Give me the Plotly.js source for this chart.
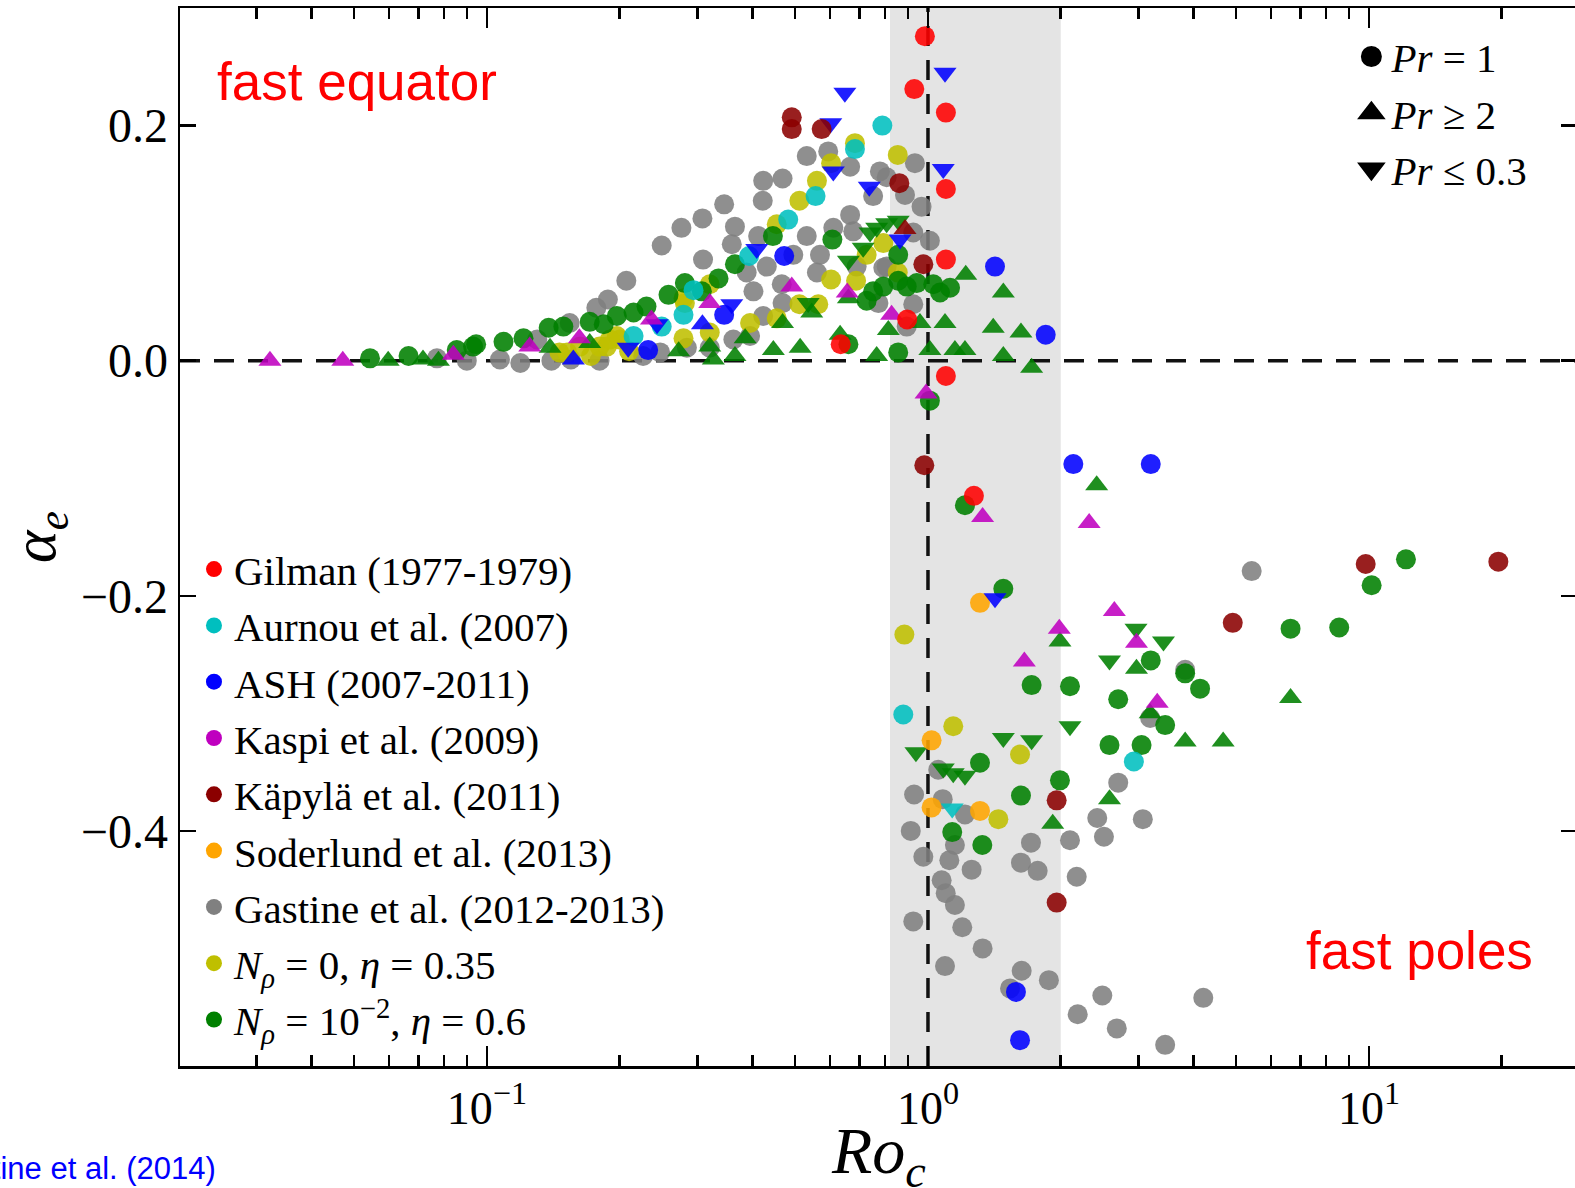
<!DOCTYPE html>
<html><head><meta charset="utf-8">
<script src="https://cdn.plot.ly/plotly-3.0.1.min.js"></script>
<style>html,body{margin:0;padding:0;overflow:hidden;background:#fff}#chart{width:1580px;height:1188px}</style>
</head><body><div id="chart"></div>
<script>
// ---------- data (Ro_c, alpha_e); symbols: o = Pr=1, ^ = Pr>=2, v = Pr<=0.3 ----------
const gilmanX = [0.984, 0.931, 1.098, 1.098, 1.098, 0.897, 0.634, 1.098, 1.271];
const gilmanY = [0.276, 0.231, 0.211, 0.146, 0.086, 0.035, 0.014, -0.013, -0.115];
const gilmanS = ['o','o','o','o','o','o','o','o','o'];

const aurnouX = [0.788, 0.683, 0.556, 0.482, 0.393, 0.294, 0.279, 0.249, 0.215, 0.879, 2.93, 1.135];
const aurnouY = [0.200, 0.180, 0.140, 0.120, 0.089, 0.060, 0.039, 0.029, 0.021, -0.301, -0.341, -0.381];
const aurnouS = ['o','o','o','o','o','o','o','o','o','o','o','v'];

const ashX = [0.648, 0.602, 1.093, 1.083, 0.610, 0.736, 0.864, 0.409, 0.472, 1.419, 1.849, 0.359, 0.345, 0.308, 0.243, 0.209, 0.232, 0.157, 2.136, 3.20, 1.419, 1.583, 1.617];
const ashY = [0.228, 0.202, 0.245, 0.163, 0.161, 0.148, 0.103, 0.095, 0.089, 0.080, 0.022, 0.048, 0.039, 0.031, 0.031, 0.011, 0.009, 0.001, -0.088, -0.088, -0.202, -0.537, -0.578];
const ashS = ['v','v','v','v','v','v','v','v','o','o','o','v','o','^','v','v','o','^','o','o','v','o','o'];

const kaspiX = [0.0322, 0.0471, 0.0839, 0.125, 0.162, 0.236, 0.320, 0.491, 0.656, 0.827, 0.99, 1.33, 2.32, 2.646, 1.985, 2.97, 1.654, 3.31];
const kaspiY = [0.0, 0.0, 0.005, 0.012, 0.019, 0.035, 0.049, 0.063, 0.058, 0.039, -0.028, -0.133, -0.138, -0.213, -0.228, -0.240, -0.256, -0.291];
const kaspiS = ['^','^','^','^','^','^','^','^','^','^','^','^','^','^','^','^','^','^'];

const kapylaX = [0.491, 0.491, 0.574, 0.861, 0.976, 0.887, 0.981, 4.91, 1.958, 1.958, 19.65, 9.83];
const kapylaY = [0.207, 0.197, 0.197, 0.151, 0.082, 0.112, -0.089, -0.223, -0.374, -0.461, -0.171, -0.173];
const kapylaS = ['o','o','o','o','o','^','o','o','o','o','o','o'];

const soderlundX = [1.312, 1.019, 1.019, 1.312];
const soderlundY = [-0.206, -0.323, -0.380, -0.383];
const soderlundS = ['o','o','o','o'];

const gastineX = [0.249, 0.276, 0.308, 0.345, 0.423, 0.468, 0.531, 0.594, 0.666, 0.934, 0.778, 0.806, 0.887, 0.751, 0.967,
  0.422, 0.365, 0.359, 0.412, 0.666, 0.531, 0.610, 0.677, 0.926, 1.01, 0.569, 0.495, 0.431, 0.309, 0.207,
  0.188, 0.388, 0.402, 0.466, 0.560, 0.689, 0.792, 0.772, 0.926, 0.895, 0.468, 0.423, 0.395, 0.362, 0.320,
  0.284, 0.247, 0.226, 0.177, 0.154, 0.13, 0.119, 0.09, 0.077, 0.18, 0.155, 0.806, 0.107, 0.14,
  0.93, 1.055, 1.08, 1.213, 0.914, 1.151, 0.976, 1.118, 1.256, 1.074, 1.097, 1.151, 0.926, 1.196, 1.33,
  1.093, 1.631, 1.88, 1.535, 1.712, 1.625, 1.773, 2.099, 2.174, 2.42, 2.506, 2.70, 3.07, 2.185, 2.485,
  2.68, 3.45, 4.21, 3.19, 5.42, 3.83];
const gastineY = [0.098, 0.113, 0.121, 0.133, 0.153, 0.155, 0.174, 0.178, 0.165, 0.168, 0.161, 0.156, 0.141, 0.140, 0.131,
  0.136, 0.114, 0.099, 0.106, 0.124, 0.106, 0.113, 0.110, 0.109, 0.102, 0.090, 0.090, 0.080, 0.086, 0.068,
  0.052, 0.075, 0.059, 0.065, 0.075, 0.080, 0.079, 0.049, 0.048, 0.029, 0.049, 0.038, 0.021, 0.018, 0.011,
  0.011, 0.007, 0.004, 0.045, 0.032, 0.018, -0.002, 0.0, 0.002, 0.0, 0.001, 0.080, 0.001, 0.0,
  -0.369, -0.348, -0.373, -0.386, -0.400, -0.412, -0.422, -0.425, -0.433, -0.442, -0.453, -0.463, -0.477, -0.482, -0.500,
  -0.515, -0.519, -0.527, -0.534, -0.410, -0.427, -0.434, -0.408, -0.439, -0.389, -0.405, -0.359, -0.390, -0.556, -0.540,
  -0.568, -0.582, -0.542, -0.304, -0.179, -0.263];

const nrho0X = [0.854, 0.683, 0.603, 0.560, 0.511, 0.454, 0.320, 0.281, 0.279, 0.320, 0.395, 0.454, 0.511, 0.564, 0.603,
  0.687, 0.726, 0.792, 0.854, 0.146, 0.180, 0.197, 0.1625, 0.187, 0.200, 0.152, 0.190, 0.279, 0.21, 0.172,
  0.884, 1.141, 1.617, 1.444];
const nrho0Y = [0.175, 0.185, 0.168, 0.153, 0.136, 0.116, 0.065, 0.049, 0.019, 0.024, 0.032, 0.036, 0.048, 0.048, 0.069,
  0.068, 0.090, 0.100, 0.075, 0.007, 0.012, 0.021, 0.012, 0.012, 0.018, 0.007, 0.018, 0.053, 0.008, 0.004,
  -0.233, -0.311, -0.335, -0.390];

const nrho2X = [0.0543, 0.0664, 0.0854, 0.093, 0.0945, 0.109, 0.121, 0.138, 0.149, 0.171, 0.184, 0.197, 0.215, 0.23, 0.258,
  0.281, 0.307, 0.335, 0.365, 0.445, 0.607, 0.726, 0.751, 0.792, 0.856, 0.856, 0.66, 0.895, 0.943, 1.028,
  1.065, 1.122, 0.856, 1.01, 1.213, 1.482, 1.718, 2.099, 2.70, 3.20, 3.83, 4.14, 3.45, 2.58, 3.05,
  1.312, 1.992, 1.625, 1.135, 1.328, 12.13, 10.14, 6.64, 8.56,
  0.0597, 0.0716, 0.0776, 0.139, 0.171, 0.272, 0.32, 0.326, 0.365, 0.385, 0.446, 0.468, 0.513, 0.545, 0.66,
  0.632, 0.765, 0.813, 0.959, 1.093, 1.218, 1.482, 1.406, 1.625, 1.01, 1.151, 1.213, 1.482, 1.718, 2.413,
  1.992, 2.97, 3.83, 4.67, 1.918, 2.58, 6.64, 3.19,
  0.535, 0.66, 0.713, 0.739, 0.765, 0.806, 0.856, 0.939, 1.083, 1.141, 1.213, 1.482, 1.718, 2.099, 2.963, 3.42, 2.58];
const nrho2Y = [0.002, 0.004, 0.009, 0.012, 0.014, 0.016, 0.019, 0.028, 0.029, 0.033, 0.031, 0.038, 0.041, 0.046, 0.056,
  0.066, 0.059, 0.070, 0.082, 0.106, 0.103, 0.051, 0.059, 0.063, 0.068, 0.090, 0.014, 0.063, 0.066, 0.065,
  0.058, 0.062, 0.007, -0.034, -0.123, -0.194, -0.276, -0.277, -0.288, -0.255, -0.266, -0.279, -0.310, -0.327, -0.327,
  -0.342, -0.357, -0.370, -0.401, -0.412, -0.169, -0.191, -0.228, -0.227,
  0.0, 0.001, 0.0, 0.011, 0.015, 0.008, 0.012, 0.001, 0.004, 0.019, 0.009, 0.032, 0.011, 0.041, 0.053,
  0.022, 0.004, 0.026, 0.032, 0.032, 0.073, 0.058, 0.028, 0.024, 0.009, 0.009, 0.009, 0.004, -0.006, -0.106,
  -0.239, -0.262, -0.324, -0.324, -0.394, -0.373, -0.287, -0.300,
  0.049, 0.085, 0.096, 0.109, 0.113, 0.117, 0.119, -0.333, -0.347, -0.351, -0.353, -0.321, -0.323, -0.311, -0.228, -0.239, -0.255];
const nrho2S = [
  'o','o','o','o','o','o','o','o','o','o','o','o','o','o','o',
  'o','o','o','o','o','o','o','o','o','o','o','o','o','o','o',
  'o','o','o','o','o','o','o','o','o','o','o','o','o','o','o',
  'o','o','o','o','o','o','o','o','o',
  '^','^','^','^','^','^','^','^','^','^','^','^','^','^','^',
  '^','^','^','^','^','^','^','^','^','^','^','^','^','^','^',
  '^','^','^','^','^','^','^','^',
  'v','v','v','v','v','v','v','v','v','v','v','v','v','v','v','v','v'];

const seriesLabels = ['Gilman (1977-1979)', 'Aurnou et al. (2007)', 'ASH (2007-2011)', 'Kaspi et al. (2009)',
  'Käpylä et al. (2011)', 'Soderlund et al. (2013)', 'Gastine et al. (2012-2013)',
  '<i>N</i><sub><i>ρ</i></sub> = 0, <i>η</i> = 0.35',
  '<i>N</i><sub><i>ρ</i></sub> = 10<sup>−2</sup>, <i>η</i> = 0.6'];
const seriesColors = ['#ff0000', '#00bfbf', '#0000ff', '#bf00bf', '#8b0000', '#ffa500', '#808080', '#bfbf00', '#008000'];
const shapeLabels = ['<i>Pr</i> = 1', '<i>Pr</i> ≥ 2', '<i>Pr</i> ≤ 0.3'];
const shapeSymbols = ['circle', 'triangle-up', 'triangle-down'];

const xTickVals = [0.1, 1, 10];
const xTickText = ['10<sup>−1</sup>', '10<sup>0</sup>', '10<sup>1</sup>'];
const xMinorVals = [0.02,0.03,0.04,0.05,0.06,0.07,0.08,0.09,0.2,0.3,0.4,0.5,0.6,0.7,0.8,0.9,2,3,4,5,6,7,8,9,20];
const yTickVals = [-0.4, -0.2, 0, 0.2];
const yTickText = ['−0.4', '−0.2', '0.0', '0.2'];
const bandRange = [0.82, 2.0];
const xTitle = '<i>Ro</i><sub><i>c</i></sub>';
const yTitle = '<i>α</i><sub><i>e</i></sub>';

// ---------- build traces ----------
const SERIF = "'Liberation Serif', 'DejaVu Serif', serif";
const SANS = "'Liberation Sans', Arial, sans-serif";
const symMap = {o: 'circle', '^': 'triangle-up', 'v': 'triangle-down'};
const sizeMap = {o: 20, '^': 20, 'v': 20};

const series = [
  [gilmanX, gilmanY, gilmanS], [aurnouX, aurnouY, aurnouS], [ashX, ashY, ashS], [kaspiX, kaspiY, kaspiS],
  [kapylaX, kapylaY, kapylaS], [soderlundX, soderlundY, soderlundS],
  [gastineX, gastineY, gastineX.map(() => 'o')], [nrho0X, nrho0Y, nrho0X.map(() => 'o')], [nrho2X, nrho2Y, nrho2S]
];

const traces = [];
// legend entries (colour)
seriesLabels.forEach((name, i) => {
  traces.push({type: 'scatter', mode: 'markers', x: [null], y: [null], name: name, legend: 'legend',
    marker: {color: seriesColors[i], size: 16, symbol: 'circle'}, hoverinfo: 'skip'});
});
// legend entries (shape)
shapeLabels.forEach((name, i) => {
  traces.push({type: 'scatter', mode: 'markers', x: [null], y: [null], name: name, legend: 'legend2',
    marker: {color: 'black', size: 16, symbol: shapeSymbols[i], line: {color: 'black', width: 5}}, hoverinfo: 'skip'});
});
// data traces, drawing order: Gastine, Nrho0, Nrho2, Aurnou, Soderlund, ASH, Kaspi, Kapyla, Gilman
const drawOrder = [6, 7, 8, 1, 5, 2, 3, 4, 0];
drawOrder.forEach(i => {
  const [xs, ys, ss] = series[i];
  traces.push({type: 'scatter', mode: 'markers', x: xs, y: ys, showlegend: false, name: seriesLabels[i],
    marker: {color: seriesColors[i], opacity: 0.88, symbol: ss.map(s => symMap[s]), size: ss.map(s => sizeMap[s]), line: {width: 0}}});
});

const layout = {
  width: 1580, height: 1188,
  margin: {l: 180, r: 3, t: 8, b: 122},
  paper_bgcolor: '#ffffff', plot_bgcolor: '#ffffff',
  font: {family: SERIF, color: 'black'},
  showlegend: true,
  xaxis: {
    type: 'log', range: [-1.6961, 1.4717], autorange: false,
    tickmode: 'array', tickvals: xTickVals, ticktext: xTickText,
    ticks: 'inside', ticklen: 20, tickwidth: 2.5, tickcolor: 'black',
    minor: {tickmode: 'array', tickvals: xMinorVals, ticks: 'inside', ticklen: 11, tickwidth: 2.5, tickcolor: 'black', showgrid: false},
    showline: true, linecolor: 'black', linewidth: 2.5, mirror: 'ticks',
    showgrid: false, zeroline: false,
    tickfont: {family: SERIF, size: 46, color: 'black'},
    ticklabelstandoff: 0
  },
  yaxis: {
    range: [-0.6, 0.3], autorange: false,
    tickmode: 'array', tickvals: yTickVals, ticktext: yTickText,
    ticks: 'inside', ticklen: 16, tickwidth: 2.5, tickcolor: 'black',
    showline: true, linecolor: 'black', linewidth: 2.5, mirror: 'ticks',
    showgrid: false, zeroline: false,
    tickfont: {family: SERIF, size: 48, color: 'black'},
    title: {text: yTitle, font: {family: SERIF, size: 62, color: 'black'}, standoff: 10}
  },
  legend: {x: 0.010, y: 0.501, xanchor: 'left', yanchor: 'top', bgcolor: 'rgba(0,0,0,0)', borderwidth: 0,
    font: {family: SERIF, size: 41, color: 'black'}, itemwidth: 30, tracegroupgap: 0},
  legend2: {x: 0.8385, y: 0.9855, xanchor: 'left', yanchor: 'top', bgcolor: 'rgba(0,0,0,0)', borderwidth: 0,
    font: {family: SERIF, size: 41, color: 'black'}, itemwidth: 30, tracegroupgap: 0},
  shapes: [
    {type: 'rect', xref: 'x', yref: 'paper', x0: bandRange[0], x1: bandRange[1], y0: 0, y1: 1,
      fillcolor: '#e4e4e4', line: {width: 0}, layer: 'below'},
    {type: 'line', xref: 'paper', yref: 'y', x0: 0, x1: 1, y0: 0, y1: 0,
      line: {color: '#111', width: 3.5, dash: '20px,14px'}, layer: 'below'},
    {type: 'line', xref: 'x', yref: 'paper', x0: 1, x1: 1, y0: 0, y1: 1,
      line: {color: '#111', width: 3.5, dash: '20px,14px'}, layer: 'below'}
  ],
  annotations: [
    {xref: 'paper', yref: 'paper', x: 0.5, y: -0.085, xanchor: 'center', yanchor: 'middle', showarrow: false,
      text: xTitle, font: {family: SERIF, size: 66, color: 'black'}},
    {xref: 'paper', yref: 'paper', x: 0.025, y: 0.9305, xanchor: 'left', yanchor: 'middle', showarrow: false,
      text: 'fast equator', font: {family: SANS, size: 53, color: '#ff0000'}},
    {xref: 'paper', yref: 'paper', x: 0.8046, y: 0.1087, xanchor: 'left', yanchor: 'middle', showarrow: false,
      text: 'fast poles', font: {family: SANS, size: 53, color: '#ff0000'}},
    {xref: 'paper', yref: 'paper', x: 0.0275, y: -0.0965, xanchor: 'right', yanchor: 'middle', showarrow: false,
      text: 'Gastine et al. (2014)', font: {family: SANS, size: 31, color: '#0000ff'}}
  ]
};

Plotly.newPlot('chart', traces, layout, {displayModeBar: false, staticPlot: true});
</script>
</body></html>
